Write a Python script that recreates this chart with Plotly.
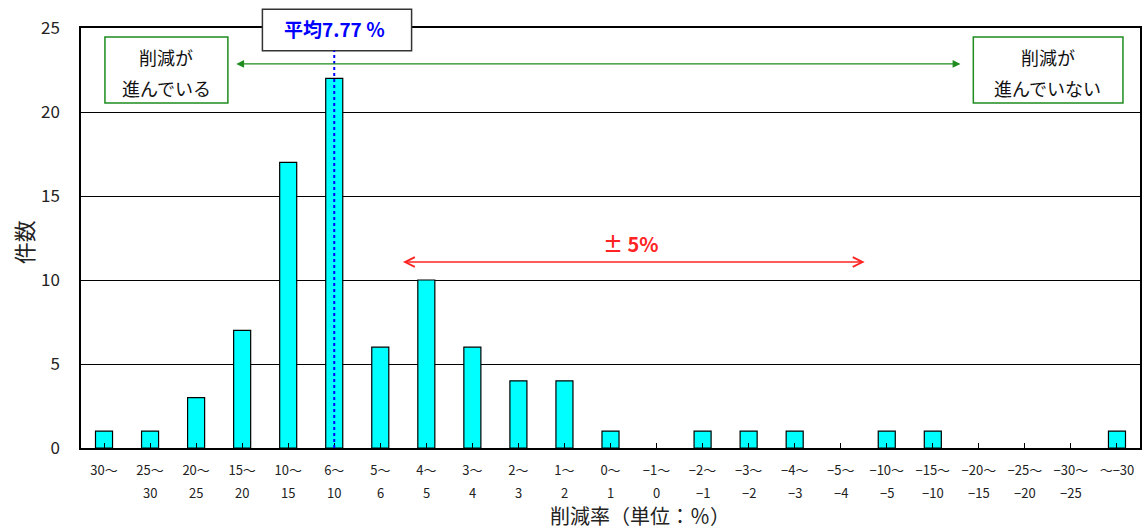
import plotly.graph_objects as go

# 削減率の区分（上段・下段のラベル）と件数
range_from = ["30～", "25～", "20～", "15～", "10～", "6～", "5～", "4～", "3～", "2～", "1～", "0～",
              "−1～", "−2～", "−3～", "−4～", "−5～", "−10～", "−15～", "−20～", "−25～", "−30～", "～−30"]
range_to = ["", "30", "25", "20", "15", "10", "6", "5", "4", "3", "2", "1",
            "0", "−1", "−2", "−3", "−4", "−5", "−10", "−15", "−20", "−25", ""]
counts = [1, 1, 3, 7, 17, 22, 6, 10, 6, 4, 4, 1, 0, 1, 1, 1, 0, 1, 1, 0, 0, 0, 1]

mean_label = "平均7.77 ％"
mean_category = 5  # 6～10 の区分

JP = "Noto Sans CJK JP"
GREEN = "#1E8C1E"
RED = "#FF2424"
idx = list(range(len(counts)))

fig = go.Figure()
fig.add_trace(go.Bar(
    x=idx, y=counts, width=0.37,
    marker=dict(color="#00FFFF",
                line=dict(color="black", width=[1.2 if c > 0 else 0 for c in counts])),
    hoverinfo="skip",
))

ann = []
# 下段の区分ラベル
for i, t in enumerate(range_to):
    if t:
        ann.append(dict(x=i, y=0, xref="x", yref="paper", yanchor="middle", yshift=-44,
                        text=t, showarrow=False, font=dict(family=JP, size=13, color="#222222")))

# 平均の表示
ann.append(dict(x=mean_category, y=0.999, xref="x", yref="paper", yanchor="middle",
                text="<b>" + mean_label + "</b>", showarrow=False,
                font=dict(family=JP, size=19, color="#0000FF")))

# 削減方向の矢印（緑）
ann.append(dict(x=18.6, y=22.86, ax=2.84, ay=22.86, xref="x", yref="y", axref="x", ayref="y",
                text="", showarrow=True, arrowside="end+start", arrowhead=2, arrowsize=1.2,
                arrowwidth=1.3, arrowcolor=GREEN))
# ±5% の矢印（赤）
ann.append(dict(x=16.52, y=11.07, ax=6.46, ay=11.07, xref="x", yref="y", axref="x", ayref="y",
                text="", showarrow=True, arrowside="end+start", arrowhead=5, arrowsize=1.2,
                arrowwidth=1.6, arrowcolor=RED))
ann.append(dict(x=11.44, y=12.15, xref="x", yref="y", text="<b>± 5%</b>", showarrow=False,
                font=dict(family=JP, size=20, color=RED)))

# 左右の説明枠の文字
box_font = dict(family=JP, size=18, color="#111111")
for cx, lines in ((1.35, ["削減が", "進んでいる"]), (20.5, ["削減が", "進んでいない"])):
    ann.append(dict(x=cx, y=23.27, xref="x", yref="y", text=lines[0], showarrow=False, font=box_font))
    ann.append(dict(x=cx, y=21.43, xref="x", yref="y", text=lines[1], showarrow=False, font=box_font))

# 軸タイトル
ann.append(dict(x=-0.0547, y=0.49, xref="paper", yref="paper", xanchor="center", yanchor="middle",
                text="件数", textangle=-90,
                showarrow=False, font=dict(family=JP, size=22, color="#222222")))
ann.append(dict(x=0.528, y=-0.16, xref="paper", yref="paper", xanchor="center", yanchor="middle",
                text="削減率（単位：％）",
                showarrow=False, font=dict(family=JP, size=20, color="#222222")))

shapes = [
    dict(type="rect", x0=0.02, x1=2.69, y0=20.54, y1=24.46, xref="x", yref="y",
         line=dict(color=GREEN, width=1.5), fillcolor="white", layer="above"),
    dict(type="rect", x0=18.88, x1=22.13, y0=20.54, y1=24.46, xref="x", yref="y",
         line=dict(color=GREEN, width=1.5), fillcolor="white", layer="above"),
    dict(type="rect", x0=3.44, x1=6.68, y0=0.946, y1=1.0445, xref="x", yref="paper",
         line=dict(color="#333333", width=1.5), fillcolor="white", layer="above"),
    dict(type="line", x0=mean_category, x1=mean_category, y0=0, y1=0.946, xref="x", yref="paper",
         line=dict(color="#0000FF", width=2, dash="dot"), layer="above"),
]

fig.update_layout(
    width=1148, height=532,
    margin=dict(l=81, r=6, t=28, b=84),
    paper_bgcolor="white", plot_bgcolor="white",
    showlegend=False,
    annotations=ann, shapes=shapes,
    font=dict(family=JP, color="black"),
    xaxis=dict(
        tickmode="array", tickvals=idx, ticktext=range_from,
        range=[-0.5, len(counts) - 0.5],
        showline=True, linecolor="black", linewidth=1.5, mirror=True,
        ticks="inside", ticklen=5, tickcolor="black", tickson="boundaries",
        showgrid=False, zeroline=False,
        tickfont=dict(family=JP, size=13, color="#222222"),
        ticklabelstandoff=10,
    ),
    yaxis=dict(
        range=[0, 25], dtick=5,
        showline=True, linecolor="black", linewidth=1.5, mirror=True,
        showgrid=True, gridcolor="black", gridwidth=1,
        zeroline=False, ticks="",
        tickfont=dict(family=JP, size=17, color="#222222"),
        ticklabelstandoff=16,
    ),
)

fig.write_html("out.html")
